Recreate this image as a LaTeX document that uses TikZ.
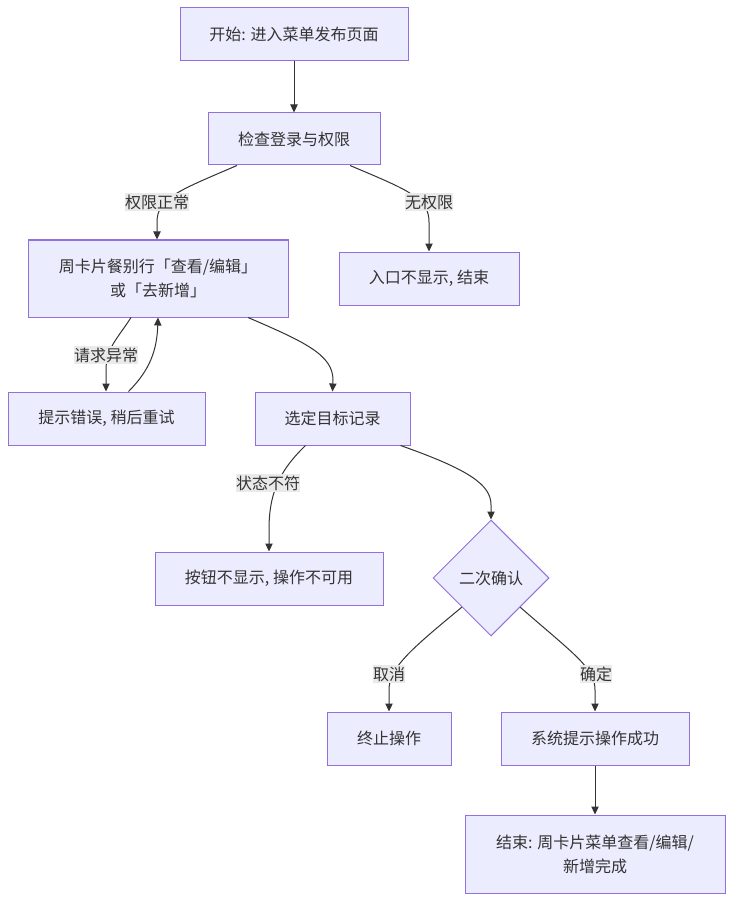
\documentclass[tikz,border=0pt]{standalone}
\usepackage{fontspec}
\setmainfont{Noto Sans CJK SC}
\usetikzlibrary{arrows.meta,shapes.geometric,calc}
\definecolor{nodefill}{HTML}{ECECFF}
\definecolor{nodeline}{HTML}{9370DB}
\definecolor{ink}{HTML}{333333}
\definecolor{lblbg}{HTML}{EAEAEA}
\begin{document}
\begin{tikzpicture}[x=0.75pt,y=-0.75pt,
  font=\fontsize{12}{18}\selectfont,
  box/.style={draw=nodeline,fill=nodefill,line width=0.75pt,text=ink,align=center,inner sep=0pt,minimum height=39.75pt},
  dia/.style={diamond,draw=nodeline,fill=nodefill,line width=0.75pt,text=ink,inner sep=0pt,minimum width=87pt,minimum height=87pt,aspect=1},
  lbl/.style={fill=lblbg,text=ink,inner xsep=0pt,inner ysep=1.5pt},
  edge/.style={draw=ink,line width=0.75pt,-{Triangle[length=6pt,width=5.5pt]}}]
\useasboundingbox (0,0) rectangle (734,902);

\node[box,minimum width=171pt] (start) at (294,34.5) {开始: 进入菜单发布页面};
\node[box,minimum width=129pt,minimum height=39pt] (check) at (294,139) {检查登录与权限};
\node[box,minimum width=195pt,minimum height=57.75pt] (card) at (158,278.5) {周卡片餐别行「查看/编辑」\\或「去新增」};
\node[box,minimum width=135pt] (noentry) at (429,278.5) {入口不显示, 结束};
\node[box,minimum width=147.75pt] (err) at (106.5,418.5) {提示错误, 稍后重试};
\node[box,minimum width=116.25pt] (select) at (332.5,418.5) {选定目标记录};
\node[box,minimum width=171pt] (btn) at (269,578.5) {按钮不显示, 操作不可用};
\node[dia] (confirm) at (491,578) {二次确认};
\node[box,minimum width=93pt] (stop) at (389,738.5) {终止操作};
\node[box,minimum width=141pt] (success) at (595,738.5) {系统提示操作成功};
\node[box,minimum width=195pt,minimum height=58.5pt] (end) at (595,854) {结束: 周卡片菜单查看/编辑/\\新增完成};

\coordinate (c1) at ($(check.south)+(-57,0)$);
\coordinate (c2) at ($(check.south)+(56,0)$);
\coordinate (c3) at ($(card.south)+(-27,0)$);
\coordinate (c4) at ($(err.north)+(22,0)$);
\coordinate (c5) at ($(card.south)+(90,0)$);
\coordinate (c6) at ($(select.south)+(-27,0)$);
\coordinate (c7) at ($(select.south)+(68,0)$);

\draw[edge] (start) -- (check);
\draw[edge] (c1) .. controls (180,190) and (157,198) .. (157,222) -- (card.north -| 157,0);
\draw[edge] (c2) .. controls (408,190) and (429,198) .. (429,222) -- (noentry.north);
\draw[edge] (c3) .. controls (118,338) and (106,348) .. (106,370) -- (err.north -| 106,0);
\draw[edge] (c4) .. controls (150,370) and (157,350) .. (card.south);
\draw[edge] (c5) .. controls (305,342) and (333,355) .. (333,380) -- (select.north);
\draw[edge] (c6) .. controls (278,472) and (269,495) .. (269,530) -- (btn.north);
\draw[edge] (c7) .. controls (470,470) and (491,485) .. (491,505) -- (confirm.north);
\draw[edge] (confirm.south west) .. controls (410,650) and (389,668) .. (389,690) -- (stop.north);
\draw[edge] (confirm.south east) .. controls (575,655) and (595,668) .. (595,690) -- (success.north);
\draw[edge] (success) -- (end);

\node[lbl] (l1) at (157,202) {权限正常};
\node[lbl] (l2) at (429,202) {无权限};
\node[lbl] (l3) at (106,355) {请求异常};
\node[lbl] (l4) at (268,483) {状态不符};
\node[lbl] (l5) at (389,674) {取消};
\node[lbl] (l6) at (596,674) {确定};
\end{tikzpicture}
\end{document}
